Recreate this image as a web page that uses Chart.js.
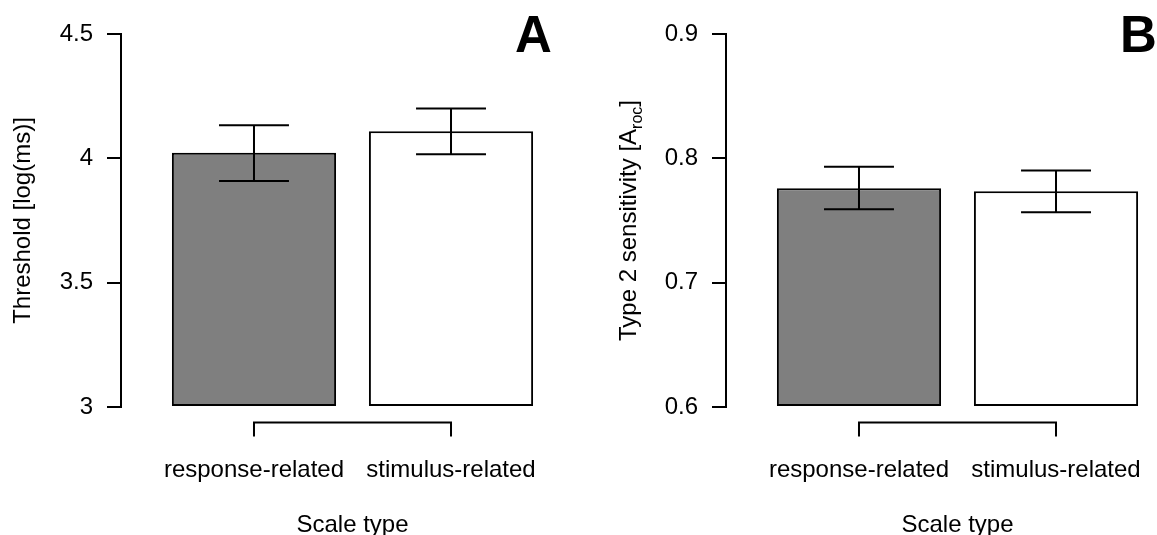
<!DOCTYPE html>
<html>
<head>
<meta charset="utf-8">
<script src="https://cdn.jsdelivr.net/npm/chart.js@4.4.1/dist/chart.umd.min.js"></script>
<style>
  html, body { margin: 0; padding: 0; background: #fff; overflow: hidden; }
  #wrap { position: relative; width: 1157px; height: 535px; overflow: hidden; }
  .panel { position: absolute; top: 0; width: 605px; height: 535px; }
</style>
</head>
<body>
<div id="wrap">
  <div class="panel" style="left:0"><canvas id="chartA" width="605" height="535"></canvas></div>
  <div class="panel" style="left:605px"><canvas id="chartB" width="605" height="535"></canvas></div>
</div>
<script>
// data
const categories = ['response-related', 'stimulus-related'];

const thresholdMean = [4.022, 4.109];
const thresholdLow  = [3.909, 4.016];
const thresholdHigh = [4.133, 4.200];
const thresholdTicks = [3, 3.5, 4, 4.5];
const thresholdTickLabels = ['3', '3.5', '4', '4.5'];

const sensMean = [0.7759, 0.7735];
const sensLow  = [0.7590, 0.7566];
const sensHigh = [0.7932, 0.7903];
const sensTicks = [0.6, 0.7, 0.8, 0.9];
const sensTickLabels = ['0.6', '0.7', '0.8', '0.9'];

const barColors = ['#7f7f7f', '#ffffff'];
const FONT = "'Liberation Sans', Arial, sans-serif";

Chart.defaults.color = '#000';
Chart.defaults.font.family = FONT;
Chart.defaults.font.size = 24;

// error bars drawn on top of each bar
const errorBars = {
  id: 'errorBars',
  afterDatasetsDraw(chart) {
    const ds = chart.data.datasets[0];
    const y = chart.scales.y;
    const ctx = chart.ctx;
    ctx.save();
    ctx.strokeStyle = '#000';
    ctx.lineWidth = 2;
    chart.getDatasetMeta(0).data.forEach((bar, i) => {
      const top = y.getPixelForValue(ds.errHigh[i]);
      const bot = y.getPixelForValue(ds.errLow[i]);
      const half = bar.width * 0.213;
      ctx.beginPath();
      ctx.moveTo(bar.x, top); ctx.lineTo(bar.x, bot);
      ctx.moveTo(bar.x - half, top); ctx.lineTo(bar.x + half, top);
      ctx.moveTo(bar.x - half, bot); ctx.lineTo(bar.x + half, bot);
      ctx.stroke();
    });
    ctx.restore();
  }
};

// R style x axis: a bracket from the first to the last tick
const bracketAxis = {
  id: 'bracketAxis',
  afterDraw(chart) {
    const x = chart.scales.x;
    const ctx = chart.ctx;
    const x1 = x.getPixelForValue(x.ticks[0].value);
    const x2 = x.getPixelForValue(x.ticks[x.ticks.length - 1].value);
    const y0 = chart.chartArea.bottom + 15.5;
    ctx.save();
    ctx.strokeStyle = '#000';
    ctx.lineWidth = 2;
    ctx.beginPath();
    ctx.moveTo(x1, y0 + 14); ctx.lineTo(x1, y0); ctx.lineTo(x2, y0); ctx.lineTo(x2, y0 + 14);
    ctx.stroke();
    ctx.restore();
  }
};

// panel letter and (optional) y title with a subscript
const panelExtras = {
  id: 'panelExtras',
  afterDraw(chart, args, opts) {
    const ctx = chart.ctx;
    ctx.save();
    ctx.fillStyle = '#000';
    ctx.font = 'bold 51px ' + FONT;
    ctx.textBaseline = 'alphabetic';
    ctx.textAlign = 'left';
    ctx.fillText(opts.letter, 515, 52);
    if (opts.main) {
      const area = chart.chartArea;
      const big = '24px ' + FONT, small = '16px ' + FONT;
      ctx.font = big;
      const w1 = ctx.measureText(opts.main).width;
      const w3 = ctx.measureText(opts.tail).width;
      ctx.font = small;
      const w2 = ctx.measureText(opts.sub).width;
      let pos = -(w1 + w2 + w3) / 2;
      ctx.translate(23, (area.top + area.bottom) / 2);
      ctx.rotate(-Math.PI / 2);
      ctx.font = big;
      ctx.fillText(opts.main, pos, 8.3); pos += w1;
      ctx.font = small;
      ctx.fillText(opts.sub, pos, 13.5); pos += w2;
      ctx.font = big;
      ctx.fillText(opts.tail, pos, 8.3);
    }
    ctx.restore();
  }
};

function makePanel(id, mean, low, high, yTicks, yLabels, yTitle, extras) {
  const ctx = document.getElementById(id).getContext('2d');
  return new Chart(ctx, {
    type: 'bar',
    data: {
      datasets: [{
        data: categories.map((c, i) => ({ x: i + 1, y: mean[i] })),
        errLow: low,
        errHigh: high,
        base: yTicks[0],
        backgroundColor: barColors,
        borderColor: '#000',
        borderWidth: 2,
        borderSkipped: false,
        categoryPercentage: 0.8333,
        barPercentage: 1
      }]
    },
    options: {
      responsive: false,
      animation: false,
      layout: { padding: { left: 0, top: 34, right: 21, bottom: 0 } },
      plugins: {
        legend: { display: false },
        tooltip: { enabled: false },
        panelExtras: extras
      },
      scales: {
        x: {
          type: 'linear',
          min: 0.325,
          max: 2.675,
          offset: false,
          afterBuildTicks: s => { s.ticks = categories.map((c, i) => ({ value: i + 1 })); },
          afterFit: s => { s.height = 128; },
          border: { display: false },
          grid: { display: false },
          ticks: {
            autoSkip: false,
            maxRotation: 0,
            padding: 41,
            callback: (v, i) => categories[i]
          },
          title: { display: true, text: 'Scale type', padding: { top: 0, bottom: -5 } }
        },
        y: {
          beginAtZero: false,
          min: yTicks[0],
          max: yTicks[yTicks.length - 1],
          afterBuildTicks: s => { s.ticks = yTicks.map(v => ({ value: v })); },
          afterFit: s => { s.width = 121; },
          border: { display: true, color: '#000', width: 2 },
          grid: { drawOnChartArea: false, drawTicks: true, tickLength: 14, color: '#000', lineWidth: 2 },
          ticks: { padding: 14, callback: (v, i) => yLabels[i] },
          title: { display: !!yTitle, text: yTitle || '', padding: { top: 9, bottom: 0 } }
        }
      }
    },
    plugins: [errorBars, bracketAxis, panelExtras]
  });
}

makePanel('chartA', thresholdMean, thresholdLow, thresholdHigh,
  thresholdTicks, thresholdTickLabels, 'Threshold [log(ms)]', { letter: 'A' });

makePanel('chartB', sensMean, sensLow, sensHigh,
  sensTicks, sensTickLabels, null,
  { letter: 'B', main: 'Type 2 sensitivity [A', sub: 'roc', tail: ']' });
</script>
</body>
</html>
